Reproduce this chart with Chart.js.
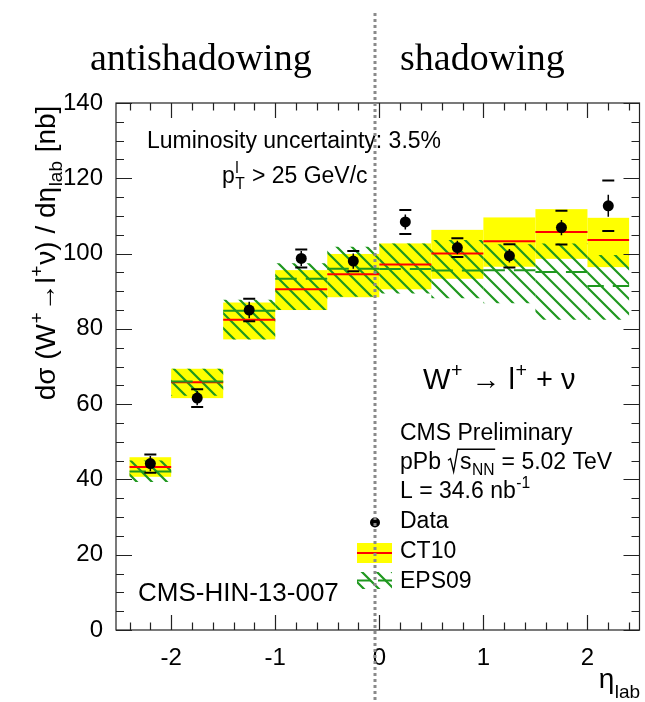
<!DOCTYPE html>
<html>
<head>
<meta charset="utf-8">
<script src="https://cdn.jsdelivr.net/npm/chart.js@4/dist/chart.umd.min.js"></script>
<style>
  html, body { margin: 0; padding: 0; background: #fff; }
  #wrap { width: 645px; height: 702px; }
</style>
</head>
<body>
<div id="wrap"><canvas id="c" width="645" height="702"></canvas></div>
<script>
// W+ -> l+ nu cross section vs eta_lab in pPb collisions
const binLow    = [-2.4, -2.0, -1.5, -1.0, -0.5, 0.0, 0.5, 1.0, 1.5, 2.0];
const binHigh   = [-2.0, -1.5, -1.0, -0.5,  0.0, 0.5, 1.0, 1.5, 2.0, 2.4];
const etaCenter = [-2.2, -1.75, -1.25, -0.75, -0.25, 0.25, 0.75, 1.25, 1.75, 2.2];

// measured cross sections [nb]
const dataValue = [44.2, 61.6, 85.0, 98.7, 98.0, 108.4, 101.6, 99.4, 106.9, 112.7];
const dataStat  = [2.0, 1.9, 2.2, 2.0, 2.0, 2.0, 1.8, 1.8, 2.0, 2.9];
const dataTotal = [2.4, 2.35, 3.0, 2.4, 2.7, 3.2, 2.5, 3.1, 4.5, 6.7];

// CT10 prediction (central, band)
const ct10Central = [43.3, 65.8, 82.4, 90.5, 94.5, 97.1, 100.0, 103.3, 105.7, 103.6];
const ct10Low     = [40.7, 61.6, 77.2, 85.0, 88.4, 90.5, 93.3, 96.5, 98.6, 96.4];
const ct10High    = [45.9, 69.4, 87.0, 95.6, 99.9, 102.7, 106.3, 109.6, 111.8, 109.5];

// EPS09 prediction (central, band)
const eps09Central = [42.1, 66.0, 84.8, 93.3, 96.0, 95.9, 95.5, 95.6, 95.1, 91.4];
const eps09Low     = [39.3, 62.2, 77.2, 85.0, 88.5, 89.4, 88.1, 86.8, 82.4, 82.4];
const eps09High    = [45.0, 69.4, 87.7, 97.4, 101.8, 102.7, 103.6, 102.5, 102.7, 99.6];

const xTickValues = [-2, -1, 0, 1, 2];
const yTickValues = [0, 20, 40, 60, 80, 100, 120, 140];
const xRange = [-2.53, 2.5];
const yRange = [0, 140];
const boundaryEta = -0.04;

const FONT = '"Liberation Sans", Arial, Helvetica, sans-serif';
const SERIF = '"Liberation Serif", "Times New Roman", serif';
const YELLOW = '#ffff00', RED = '#ff0000', GREEN = '#1f981f', INK = '#000000';

// ---------- rich text helpers (sub/superscripts, radicals) ----------
function partWidth(ctx, p, size) {
  if (typeof p === 'string') { ctx.font = size + 'px ' + FONT; return ctx.measureText(p).width; }
  if (p.sqrt) return size * 0.55 + partsWidth(ctx, p.sqrt, size);
  const s = size * 0.68;
  ctx.font = s + 'px ' + FONT;
  const a = p.sup ? ctx.measureText(p.sup).width : 0;
  const b = p.sub ? ctx.measureText(p.sub).width : 0;
  return Math.max(a, b) + size * 0.05;
}
function partsWidth(ctx, parts, size) {
  let w = 0; for (const p of parts) w += partWidth(ctx, p, size); return w;
}
function drawParts(ctx, x, y, parts, size, align, subDrop) {
  const drop = subDrop || 0.24;
  const total = partsWidth(ctx, parts, size);
  if (align === 'center') x -= total / 2; else if (align === 'right') x -= total;
  ctx.textAlign = 'left'; ctx.textBaseline = 'alphabetic'; ctx.fillStyle = INK;
  for (const p of parts) {
    if (typeof p === 'string') {
      ctx.font = size + 'px ' + FONT; ctx.fillText(p, x, y); x += ctx.measureText(p).width;
    } else if (p.sqrt) {
      const rw = size * 0.55, iw = partsWidth(ctx, p.sqrt, size);
      ctx.save(); ctx.strokeStyle = INK; ctx.lineWidth = size * 0.06;
      ctx.beginPath();
      ctx.moveTo(x + rw * 0.05, y - size * 0.38);
      ctx.lineTo(x + rw * 0.25, y - size * 0.45);
      ctx.lineTo(x + rw * 0.5, y + size * 0.12);
      ctx.lineTo(x + rw * 0.82, y - size * 0.86);
      ctx.lineTo(x + rw + iw, y - size * 0.86);
      ctx.stroke(); ctx.restore();
      drawParts(ctx, x + rw, y, p.sqrt, size, 'left');
      x += rw + iw;
    } else {
      const s = size * 0.68;
      ctx.font = s + 'px ' + FONT;
      if (p.sup) ctx.fillText(p.sup, x + size * 0.02, y - size * 0.42);
      if (p.sub) ctx.fillText(p.sub, x + size * 0.02, y + size * drop);
      x += partWidth(ctx, p, size);
    }
  }
  return total;
}

// diagonal hatch inside a rectangle (global phase so neighbouring boxes line up)
function hatchRect(ctx, x0, y0, x1, y1, color, spacing, width) {
  ctx.save();
  ctx.beginPath(); ctx.rect(x0, y0, x1 - x0, y1 - y0); ctx.clip();
  ctx.strokeStyle = color; ctx.lineWidth = width;
  ctx.beginPath();
  const cMin = Math.floor((x0 - y1) / spacing) * spacing;
  for (let c = cMin; c <= x1 - y0 + spacing; c += spacing) {
    ctx.moveTo(c + y0 - 2, y0 - 2); ctx.lineTo(c + y1 + 2, y1 + 2);
  }
  ctx.stroke();
  ctx.restore();
}

// ---------- theory bands, central lines, error bars ----------
const bandsPlugin = {
  id: 'bands',
  beforeDatasetsDraw(chart) {
    const { ctx, chartArea: a } = chart;
    const xs = chart.scales.x, ys = chart.scales.y;
    ctx.save();
    ctx.beginPath(); ctx.rect(a.left, a.top, a.right - a.left, a.bottom - a.top); ctx.clip();
    for (let i = 0; i < binLow.length; i++) {
      const xl = xs.getPixelForValue(binLow[i]), xr = xs.getPixelForValue(binHigh[i]);
      ctx.fillStyle = YELLOW;
      const yt = ys.getPixelForValue(ct10High[i]), yb = ys.getPixelForValue(ct10Low[i]);
      ctx.fillRect(xl, yt, xr - xl, yb - yt);
    }
    for (let i = 0; i < binLow.length; i++) {
      const xl = xs.getPixelForValue(binLow[i]), xr = xs.getPixelForValue(binHigh[i]);
      hatchRect(ctx, xl, ys.getPixelForValue(eps09High[i]), xr, ys.getPixelForValue(eps09Low[i]), GREEN, 15, 2.2);
    }
    for (let i = 0; i < binLow.length; i++) {
      const xl = xs.getPixelForValue(binLow[i]), xr = xs.getPixelForValue(binHigh[i]);
      ctx.strokeStyle = RED; ctx.lineWidth = 2; ctx.setLineDash([]);
      const yr = ys.getPixelForValue(ct10Central[i]);
      ctx.beginPath(); ctx.moveTo(xl, yr); ctx.lineTo(xr, yr); ctx.stroke();
    }
    for (let i = 0; i < binLow.length; i++) {
      const xl = xs.getPixelForValue(binLow[i]), xr = xs.getPixelForValue(binHigh[i]);
      const gap = 9, dash = ((xr - xl) - gap) / 2;
      ctx.strokeStyle = GREEN; ctx.lineWidth = 2; ctx.setLineDash([dash, gap]);
      const yg = ys.getPixelForValue(eps09Central[i]);
      ctx.beginPath(); ctx.moveTo(xl, yg); ctx.lineTo(xr, yg); ctx.stroke();
    }
    ctx.setLineDash([]);
    // data error bars: thin stat line, caps at total uncertainty
    ctx.strokeStyle = INK;
    for (let i = 0; i < dataValue.length; i++) {
      const x = xs.getPixelForValue(etaCenter[i]);
      ctx.lineWidth = 1.5;
      ctx.beginPath();
      ctx.moveTo(x, ys.getPixelForValue(dataValue[i] + dataStat[i]));
      ctx.lineTo(x, ys.getPixelForValue(dataValue[i] - dataStat[i]));
      ctx.stroke();
      ctx.lineWidth = 2;
      for (const s of [1, -1]) {
        const y = ys.getPixelForValue(dataValue[i] + s * dataTotal[i]);
        ctx.beginPath(); ctx.moveTo(x - 6, y); ctx.lineTo(x + 6, y); ctx.stroke();
      }
    }
    ctx.restore();
  }
};

// ---------- frame, inward ticks, labels, legend ----------
const overlayPlugin = {
  id: 'overlay',
  afterDraw(chart) {
    const { ctx, chartArea: a } = chart;
    const xs = chart.scales.x, ys = chart.scales.y;
    ctx.save();
    ctx.strokeStyle = '#222'; ctx.lineWidth = 1.2;
    ctx.strokeRect(a.left, a.top, a.right - a.left, a.bottom - a.top);
    ctx.beginPath();
    for (let v = yRange[0]; v <= yRange[1] + 1e-6; v += 5) {
      const y = Math.round(ys.getPixelForValue(v)) + 0.5;
      const len = (v % 20 === 0) ? 16 : 8;
      ctx.moveTo(a.left, y); ctx.lineTo(a.left + len, y);
      ctx.moveTo(a.right, y); ctx.lineTo(a.right - len, y);
    }
    for (let k = -12; k <= 12; k++) {
      const v = k * 0.2;
      if (v < xRange[0] || v > xRange[1]) continue;
      const x = Math.round(xs.getPixelForValue(v)) + 0.5;
      const major = (k % 5 === 0);
      ctx.moveTo(x, a.bottom); ctx.lineTo(x, a.bottom - (major ? 15 : 7.5));
      ctx.moveTo(x, a.top); ctx.lineTo(x, a.top + (major ? 15 : 7.5));
    }
    ctx.stroke();

    // axis titles
    ctx.save();
    ctx.translate(55, 253);
    ctx.rotate(-Math.PI / 2);
    drawParts(ctx, 0, 0, ['d\u03c3 (W', { sup: '+' }, '\u2192l', { sup: '+' }, '\u03bd) / d\u03b7', { sub: 'lab' }, ' [nb]'], 28, 'center');
    ctx.restore();
    drawParts(ctx, 641, 688, ['\u03b7', { sub: 'lab' }], 28, 'right', 0.36);

    // region labels
    ctx.fillStyle = INK; ctx.textBaseline = 'alphabetic'; ctx.textAlign = 'left';
    ctx.font = '38px ' + SERIF;
    ctx.fillText('antishadowing', 90, 70);
    ctx.fillText('shadowing', 400, 70);

    // annotations
    drawParts(ctx, 147, 148, ['Luminosity uncertainty: 3.5%'], 23, 'left');
    drawParts(ctx, 222, 183, ['p', { sub: 'T', sup: 'l' }, ' > 25 GeV/c'], 23, 'left');
    drawParts(ctx, 423, 389, ['W', { sup: '+' }, ' \u2192 l', { sup: '+' }, ' + \u03bd'], 29, 'left');
    drawParts(ctx, 400, 440, ['CMS Preliminary'], 23, 'left');
    drawParts(ctx, 400, 469, ['pPb ', { sqrt: ['s', { sub: 'NN' }] }, ' = 5.02 TeV'], 23, 'left');
    drawParts(ctx, 400, 498, ['L = 34.6 nb', { sup: '-1' }], 23, 'left');
    drawParts(ctx, 138, 601, ['CMS-HIN-13-007'], 26, 'left');

    // legend
    ctx.fillStyle = INK;
    ctx.beginPath(); ctx.arc(375, 522.5, 5, 0, Math.PI * 2); ctx.fill();
    drawParts(ctx, 400, 528, ['Data'], 23, 'left');
    ctx.fillStyle = YELLOW; ctx.fillRect(357, 543, 35, 20);
    ctx.strokeStyle = RED; ctx.lineWidth = 2;
    ctx.beginPath(); ctx.moveTo(357, 553); ctx.lineTo(392, 553); ctx.stroke();
    drawParts(ctx, 400, 558, ['CT10'], 23, 'left');
    hatchRect(ctx, 357, 572, 392, 589, GREEN, 15, 2.2);
    ctx.strokeStyle = GREEN; ctx.lineWidth = 2; ctx.setLineDash([14, 7]);
    ctx.beginPath(); ctx.moveTo(357, 580.5); ctx.lineTo(392, 580.5); ctx.stroke();
    ctx.setLineDash([]);
    drawParts(ctx, 400, 588, ['EPS09'], 23, 'left');

    // boundary between the two regions
    const xb = Math.round(xs.getPixelForValue(boundaryEta));
    ctx.strokeStyle = '#8a8a8a'; ctx.lineWidth = 3; ctx.setLineDash([3, 3]);
    ctx.beginPath(); ctx.moveTo(xb, 13); ctx.lineTo(xb, 702); ctx.stroke();
    ctx.restore();
  }
};

new Chart(document.getElementById('c'), {
  type: 'scatter',
  data: {
    datasets: [{
      label: 'Data',
      data: etaCenter.map((x, i) => ({ x: x, y: dataValue[i] })),
      backgroundColor: INK, borderColor: INK, borderWidth: 0,
      pointRadius: 5.5, pointHoverRadius: 5.5
    }]
  },
  options: {
    responsive: false, animation: false, devicePixelRatio: 1,
    layout: { padding: { top: 103, right: 4.5, left: 0, bottom: 0 } },
    plugins: { legend: { display: false }, tooltip: { enabled: false } },
    scales: {
      x: {
        type: 'linear', min: xRange[0], max: xRange[1],
        grid: { display: false, drawTicks: false }, border: { display: false },
        afterBuildTicks: s => { s.ticks = xTickValues.map(v => ({ value: v })); },
        afterFit: s => { s.height = 72; },
        ticks: { color: INK, padding: 14, font: { family: FONT, size: 24 }, maxRotation: 0 }
      },
      y: {
        type: 'linear', min: yRange[0], max: yRange[1],
        grid: { display: false, drawTicks: false }, border: { display: false },
        afterBuildTicks: s => { s.ticks = yTickValues.map(v => ({ value: v })); },
        afterFit: s => { s.width = 116; },
        ticks: { color: INK, padding: 13, font: { family: FONT, size: 24 } }
      }
    }
  },
  plugins: [bandsPlugin, overlayPlugin]
});
</script>
</body>
</html>
